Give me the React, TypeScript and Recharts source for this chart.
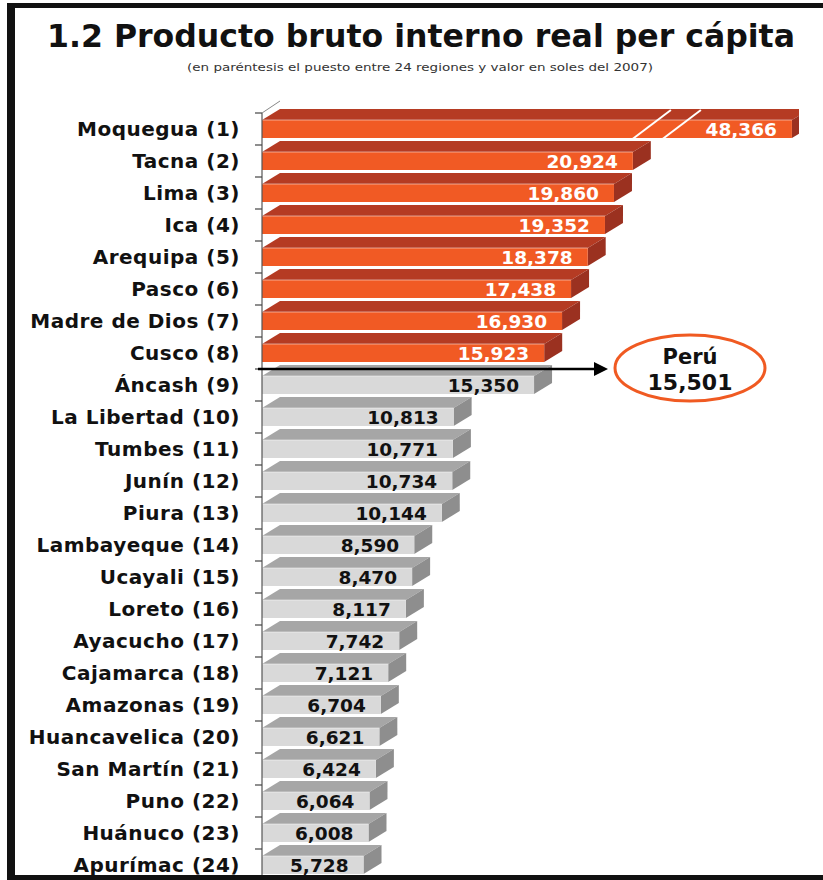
import { BarChart, Bar, XAxis, YAxis, LabelList } from 'recharts';

const REGIONS = [
  'Moquegua (1)', 'Tacna (2)', 'Lima (3)', 'Ica (4)', 'Arequipa (5)', 'Pasco (6)',
  'Madre de Dios (7)', 'Cusco (8)', 'Áncash (9)', 'La Libertad (10)', 'Tumbes (11)',
  'Junín (12)', 'Piura (13)', 'Lambayeque (14)', 'Ucayali (15)', 'Loreto (16)',
  'Ayacucho (17)', 'Cajamarca (18)', 'Amazonas (19)', 'Huancavelica (20)',
  'San Martín (21)', 'Puno (22)', 'Huánuco (23)', 'Apurímac (24)',
];
const VALUES = [
  48366, 20924, 19860, 19352, 18378, 17438, 16930, 15923, 15350, 10813, 10771, 10734,
  10144, 8590, 8470, 8117, 7742, 7121, 6704, 6621, 6424, 6064, 6008, 5728,
];
const PERU = 15501;
const AXIS_MAX = 30300;
const BREAK_AT = 29900; // bars longer than this get cut with a break mark

const data = REGIONS.map((name, i) => ({
  name,
  value: VALUES[i],
  shown: Math.min(VALUES[i], BREAK_AT),
}));

const FONT = '"DejaVu Sans", Verdana, sans-serif';
const TITLE_FONT = '"DejaVu Sans Condensed", "DejaVu Sans", sans-serif';
const ORANGE = { front: '#F15A24', top: '#B53B23', side: '#9B3120' };
const GRAY = { front: '#D9D9D9', top: '#A6A6A6', side: '#8E8E8E' };
const DX = 18;
const DY = 11;

const PLOT_TOP = 113;
const AXIS_X = 262;
const STEP = 32;

function Bar3D(props: any) {
  const { x, y, width, height, payload } = props;
  const c = payload.value > PERU ? ORANGE : GRAY;
  const w = width;
  const broken = payload.value > BREAK_AT;
  return (
    <g>
      <polygon
        points={`${x},${y} ${x + DX},${y - DY} ${x + w + DX},${y - DY} ${x + w},${y}`}
        fill={c.top}
      />
      <polygon
        points={`${x + w},${y} ${x + w + DX},${y - DY} ${x + w + DX},${y + height - DY} ${x + w},${y + height}`}
        fill={c.side}
      />
      <rect x={x} y={y} width={w} height={height} fill={c.front} />
      <line x1={x} y1={y} x2={x + w} y2={y} stroke="#fff" strokeOpacity={0.5} strokeWidth={1} />
      {broken && (
        <g stroke="#fff" strokeWidth={2}>
          <line x1={x + w - 162} y1={y + height + 3} x2={x + w - 121} y2={y - DY + 1} />
          <line x1={x + w - 132} y1={y + height + 3} x2={x + w - 91} y2={y - DY + 1} />
        </g>
      )}
    </g>
  );
}

function ValueLabel(props: any) {
  const { x, y, width, height, value } = props;
  const hi = value > PERU;
  return (
    <text
      x={x + width - 15}
      y={y + height / 2 + 6.5}
      textAnchor="end"
      fontFamily={FONT}
      fontWeight="bold"
      fontSize={18.5}
      fill={hi ? '#ffffff' : '#111111'}
    >
      {Number(value).toLocaleString('en-US')}
    </text>
  );
}

function RegionTick(props: any) {
  const { y, payload } = props;
  return (
    <g>
      <line x1={AXIS_X - 7} y1={y - STEP / 2} x2={AXIS_X} y2={y - STEP / 2} stroke="#444" strokeWidth={1.2} />
      <text
        x={240}
        y={y + 7}
        textAnchor="end"
        fontFamily={FONT}
        fontWeight="bold"
        fontSize={20}
        letterSpacing={0.5}
        fill="#111"
      >
        {payload.value}
      </text>
    </g>
  );
}

export default function App() {
  return (
    <div style={{ position: 'absolute', left: 0, top: 0, width: 823, height: 880, overflow: 'hidden', background: '#fff' }}>
      <BarChart
        width={823}
        height={PLOT_TOP + STEP * REGIONS.length}
        data={data}
        layout="vertical"
        margin={{ top: PLOT_TOP, right: 24, bottom: 0, left: 0 }}
        barSize={18}
      >
        <XAxis type="number" domain={[0, AXIS_MAX]} hide allowDataOverflow />
        <YAxis
          type="category"
          dataKey="name"
          width={AXIS_X}
          tick={<RegionTick />}
          tickLine={false}
          axisLine={{ stroke: '#555', strokeWidth: 1.2 }}
          interval={0}
        />
        <Bar dataKey="shown" shape={<Bar3D />} isAnimationActive={false}>
          <LabelList dataKey="value" content={<ValueLabel />} />
        </Bar>
      </BarChart>

      <svg
        width={823}
        height={880}
        style={{ position: 'absolute', left: 0, top: 0, pointerEvents: 'none' }}
      >
        <text x={47} y={47} fontFamily={TITLE_FONT} fontWeight="bold" fontSize={32} fill="#111"
          textLength={748} lengthAdjust="spacingAndGlyphs">
          1.2 Producto bruto interno real per cápita
        </text>
        <text x={187} y={71} fontFamily={FONT} fontSize={10} fill="#333"
          textLength={466} lengthAdjust="spacingAndGlyphs">
          (en paréntesis el puesto entre 24 regiones y valor en soles del 2007)
        </text>

        <line x1={AXIS_X} y1={PLOT_TOP} x2={AXIS_X + DX} y2={PLOT_TOP - DY - 1} stroke="#888" strokeWidth={1} />

        <line x1={258} y1={PLOT_TOP + STEP * 8} x2={598} y2={PLOT_TOP + STEP * 8} stroke="#000" strokeWidth={2.5} />
        <polygon
          points={`${608},${PLOT_TOP + STEP * 8} ${594},${PLOT_TOP + STEP * 8 - 7} ${594},${PLOT_TOP + STEP * 8 + 7}`}
          fill="#000"
        />
        <ellipse cx={690} cy={368} rx={75} ry={33} fill="#fff" stroke="#F05A22" strokeWidth={3} />
        <text x={690} y={364} textAnchor="middle" fontFamily={FONT} fontWeight="bold" fontSize={21} fill="#111">
          Perú
        </text>
        <text x={690} y={390} textAnchor="middle" fontFamily={FONT} fontWeight="bold" fontSize={22} fill="#111">
          {PERU.toLocaleString('en-US')}
        </text>

        <rect x={7} y={3} width={816} height={5} fill="#111" />
        <rect x={7} y={3} width={8} height={877} fill="#111" />
        <rect x={7} y={875} width={816} height={5} fill="#111" />
      </svg>
    </div>
  );
}
